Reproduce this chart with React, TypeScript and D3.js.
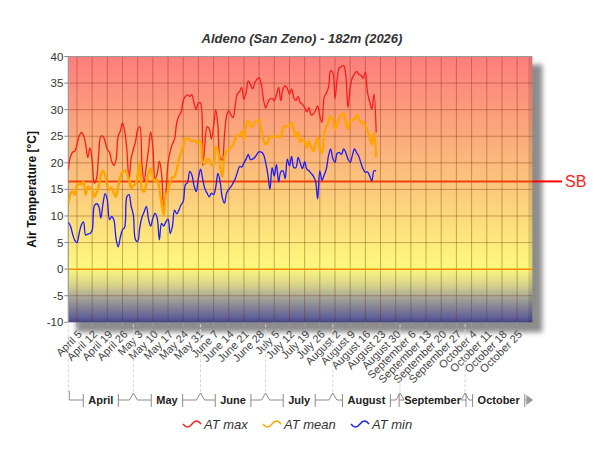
import * as d3 from "d3";
import { useEffect, useRef } from "react";

// daily values from 1 April 2026
const START = new Date(2026, 3, 1);
const END = new Date(2026, 10, 1);

const tMax = [
  18.7, 21.2, 22.0, 22.2, 23.5, 25.0, 25.7, 25.2, 23.5, 21.0, 22.8, 20.5, 16.2, 17.0, 21.5, 25.0, 25.0, 24.0, 22.5, 22.0,
  20.3, 19.5, 20.5, 25.0, 26.0, 27.5, 26.0, 22.5, 16.8, 20.9, 22.5, 24.0, 26.2, 26.8, 19.5, 16.5, 19.5, 22.5, 25.8, 23.0,
  17.0, 18.0, 20.3, 18.0, 11.8, 14.5, 20.0, 22.2, 23.5, 24.5, 27.5, 28.8, 29.5, 31.7, 32.5, 32.8, 32.5, 32.8, 31.2, 30.0,
  31.3, 31.2, 19.5, 23.5, 26.8, 26.4, 24.5, 26.8, 30.0, 27.0, 21.0, 20.5, 25.0, 28.8, 29.8, 29.0, 28.5, 30.8, 33.0, 33.4,
  34.2, 32.0, 33.2, 35.4, 34.7, 33.9, 35.0, 35.7, 36.0, 34.8, 32.0, 30.3, 31.3, 32.0, 32.1, 31.7, 32.8, 34.2, 31.7, 33.9,
  34.5, 34.0, 32.9, 33.9, 32.3, 31.7, 32.5, 31.3, 31.0, 30.4, 29.6, 30.4, 29.0, 29.2, 29.8, 30.7, 28.8, 27.6, 32.3, 33.1,
  34.2, 37.3, 37.0, 32.1, 35.7, 37.9, 38.1, 38.3, 36.4, 30.4, 34.2, 36.0, 36.7, 37.2, 36.6, 36.5, 35.9, 37.1, 33.2, 31.5,
  30.1, 32.9, 25.7,
];

const tMean = [
  12.4, 14.2, 14.6, 14.0, 15.7, 16.1, 15.9, 16.5, 14.0, 15.5, 15.3, 14.9, 13.6, 14.3, 15.5, 17.7, 18.5, 17.7, 15.7, 14.9,
  15.3, 14.3, 13.6, 15.5, 17.4, 18.3, 18.6, 18.1, 16.8, 15.2, 15.7, 16.0, 17.7, 20.2, 14.9, 14.6, 16.0, 17.9, 19.0, 17.1,
  16.5, 16.8, 15.0, 12.4, 10.2, 14.0, 14.6, 16.5, 17.3, 17.4, 18.7, 20.6, 22.0, 23.2, 24.6, 24.6, 24.4, 24.0, 24.2, 24.0,
  23.7, 24.2, 20.2, 19.8, 20.7, 20.6, 19.6, 19.6, 23.1, 22.3, 19.5, 17.3, 21.0, 22.2, 22.5, 22.9, 23.4, 24.4, 25.2, 25.2,
  25.9, 24.4, 27.3, 27.9, 26.9, 26.9, 27.6, 27.9, 28.1, 26.3, 24.4, 23.5, 23.9, 24.8, 24.9, 24.9, 25.1, 24.8, 24.9, 26.3,
  26.9, 26.9, 27.0, 27.6, 26.3, 24.8, 25.8, 23.9, 24.4, 24.1, 22.9, 24.0, 22.9, 22.2, 23.5, 24.8, 22.6, 21.9, 25.4, 26.8,
  27.6, 28.8, 28.3, 26.2, 27.3, 28.5, 29.1, 29.3, 27.6, 26.3, 27.9, 28.1, 28.2, 29.1, 28.2, 27.6, 27.6, 26.9, 26.0, 24.8,
  23.5, 25.6, 21.0,
];

const tMin = [
  8.8, 8.1, 6.6, 5.4, 5.0, 6.7, 8.3, 8.9, 6.4, 6.6, 6.7, 7.3, 11.9, 12.3, 11.9, 9.6, 12.3, 14.2, 13.0, 9.3,
  9.9, 9.3, 5.8, 4.2, 6.0, 7.4, 7.9, 13.6, 14.0, 11.8, 10.2, 5.5, 5.2, 7.9, 9.8, 10.8, 11.8, 9.4, 8.1, 9.6,
  10.5, 9.6, 5.5, 8.6, 8.1, 8.9, 9.4, 6.7, 8.0, 11.1, 10.4, 11.1, 12.1, 12.7, 15.9, 16.3, 18.4, 17.7, 15.7, 14.6,
  17.1, 18.8, 16.9, 15.1, 14.3, 13.6, 14.3, 14.0, 15.4, 18.0, 16.5, 13.5, 12.4, 14.3, 15.0, 15.5, 16.2, 17.0, 18.2, 19.3,
  19.2, 20.0, 20.7, 21.6, 20.6, 20.7, 21.0, 21.6, 22.1, 22.0, 21.6, 20.1, 17.9, 15.0, 19.1, 17.5, 19.7, 16.4, 18.3, 18.5,
  17.0, 20.7, 19.4, 21.2, 19.1, 19.1, 21.0, 19.9, 18.9, 20.2, 18.8, 18.5, 18.0, 17.5, 16.6, 13.2, 18.5, 16.7, 17.7, 18.8,
  21.3, 22.6, 20.8, 20.1, 21.8, 21.9, 21.6, 22.6, 21.9, 20.7, 20.1, 21.4, 22.6, 21.9, 21.2, 19.9, 18.8, 18.2, 18.3, 17.5,
  16.6, 18.5, 18.5,
];

const seriesNames = ["AT max", "AT mean", "AT min"];
const seriesColors = ["#ff1a1a", "#ffa500", "#1a1aff"];
const seriesWidths = [1.3, 2.4, 1.3];
const yTicks = [-10, -5, 0, 5, 10, 15, 20, 25, 30, 35, 40];
const monthNames = ["April", "May", "June", "July", "August", "September", "October"];
const SB_VALUE = 16.5;
const TITLE = "Aldeno (San Zeno) - 182m (2026)";
const Y_LABEL = "Air Temperature [°C]";

const FONT = "'Liberation Sans', Arial, sans-serif";

export default function App() {
  const ref = useRef<SVGSVGElement | null>(null);

  useEffect(() => {
    const el = ref.current;
    if (!el) return;
    const svg = d3.select(el);
    svg.selectAll("*").remove();

    const L = 68.3;
    const R = 532.3;
    const T = 56.5;
    const B = 322.3;

    const x = d3.scaleTime().domain([START, END]).range([L, R]);
    const y = d3.scaleLinear().domain([-10, 40]).range([B, T]);

    const defs = svg.append("defs");
    const grad = defs
      .append("linearGradient")
      .attr("id", "bg")
      .attr("x1", 0)
      .attr("y1", 0)
      .attr("x2", 0)
      .attr("y2", 1);
    const stops: [number, string][] = [
      [0, "#ff7d7d"],
      [0.2, "#fc9b7c"],
      [0.4, "#fbba7c"],
      [0.6, "#fcd97c"],
      [0.74, "#fdf17c"],
      [0.8, "#fdf87e"],
      [0.86, "#d6d38a"],
      [0.9, "#aeac97"],
      [1, "#4f4f98"],
    ];
    stops.forEach(([o, c]) => grad.append("stop").attr("offset", o).attr("stop-color", c));

    const sh = defs
      .append("filter")
      .attr("id", "sh")
      .attr("x", "-10%")
      .attr("y", "-10%")
      .attr("width", "120%")
      .attr("height", "120%");
    sh.append("feGaussianBlur").attr("stdDeviation", 2.5);

    defs
      .append("clipPath")
      .attr("id", "plotclip")
      .append("rect")
      .attr("x", L)
      .attr("y", T)
      .attr("width", R - L)
      .attr("height", B - T);

    // drop shadow
    svg
      .append("rect")
      .attr("x", L + 8)
      .attr("y", T + 8)
      .attr("width", R - L + 2)
      .attr("height", B - T + 2)
      .attr("fill", "#8c8c8c")
      .attr("filter", "url(#sh)");

    svg
      .append("rect")
      .attr("x", L)
      .attr("y", T)
      .attr("width", R - L)
      .attr("height", B - T)
      .attr("fill", "url(#bg)");

    // bevel on right / bottom edges
    svg
      .append("rect")
      .attr("x", R - 4)
      .attr("y", T)
      .attr("width", 4)
      .attr("height", B - T)
      .attr("fill", "rgba(0,0,0,0.12)");
    svg
      .append("rect")
      .attr("x", L)
      .attr("y", B - 3)
      .attr("width", R - L)
      .attr("height", 3)
      .attr("fill", "rgba(0,0,0,0.08)");

    const weeks = d3.timeSunday.range(START, END);
    const grid = svg.append("g").attr("stroke", "rgba(110,40,10,0.36)").attr("stroke-width", 1);
    weeks.forEach((d) => {
      grid
        .append("line")
        .attr("x1", x(d))
        .attr("x2", x(d))
        .attr("y1", T)
        .attr("y2", B);
    });
    yTicks
      .filter((v) => v !== -10 && v !== 40 && v !== 0)
      .forEach((v) => {
        grid
          .append("line")
          .attr("x1", L)
          .attr("x2", R)
          .attr("y1", y(v))
          .attr("y2", y(v));
      });

    // zero line
    svg
      .append("line")
      .attr("x1", L)
      .attr("x2", R)
      .attr("y1", y(0))
      .attr("y2", y(0))
      .attr("stroke", "#ff8c00")
      .attr("stroke-width", 1.5);

    // frame
    svg
      .append("path")
      .attr("d", `M${L},${B}V${T}H${R}`)
      .attr("fill", "none")
      .attr("stroke", "#9a9a9a")
      .attr("stroke-width", 1.2);

    // SB threshold
    svg
      .append("line")
      .attr("x1", L)
      .attr("x2", R)
      .attr("y1", y(SB_VALUE))
      .attr("y2", y(SB_VALUE))
      .attr("stroke", "#f2400c")
      .attr("stroke-width", 2);
    svg
      .append("line")
      .attr("x1", R)
      .attr("x2", 562)
      .attr("y1", y(SB_VALUE))
      .attr("y2", y(SB_VALUE))
      .attr("stroke", "#ff0000")
      .attr("stroke-width", 2);
    svg
      .append("text")
      .attr("x", 565)
      .attr("y", y(SB_VALUE) + 5.5)
      .attr("fill", "#ff2020")
      .attr("font-family", FONT)
      .attr("font-size", 16)
      .text("SB");

    // series
    const series = [tMax, tMean, tMin];
    const line = d3
      .line<number>()
      .x((_, i) => x(d3.timeDay.offset(START, i)))
      .y((v) => y(v))
      .curve(d3.curveCatmullRom.alpha(0.5));
    const lines = svg.append("g").attr("clip-path", "url(#plotclip)");
    series.forEach((s, k) => {
      lines
        .append("path")
        .datum(s)
        .attr("fill", "none")
        .attr("stroke", seriesColors[k])
        .attr("stroke-width", seriesWidths[k])
        .attr("stroke-linejoin", "round")
        .attr("d", line);
    });

    // y axis
    const ya = svg.append("g").attr("font-family", FONT).attr("font-size", 11.5).attr("fill", "#333");
    yTicks.forEach((v) => {
      ya.append("line")
        .attr("x1", L - 4)
        .attr("x2", L)
        .attr("y1", y(v))
        .attr("y2", y(v))
        .attr("stroke", "#888");
      ya.append("text")
        .attr("x", L - 5)
        .attr("y", y(v) + 4)
        .attr("text-anchor", "end")
        .text(String(v));
    });

    svg
      .append("text")
      .attr("transform", `translate(36,${(T + B) / 2}) rotate(-90)`)
      .attr("text-anchor", "middle")
      .attr("font-family", FONT)
      .attr("font-weight", "bold")
      .attr("font-size", 12)
      .attr("fill", "#111")
      .text(Y_LABEL);

    svg
      .append("text")
      .attr("x", 302)
      .attr("y", 43)
      .attr("text-anchor", "middle")
      .attr("font-family", FONT)
      .attr("font-weight", "bold")
      .attr("font-style", "italic")
      .attr("font-size", 13)
      .attr("fill", "#333")
      .text(TITLE);

    // x axis: weekly ticks and rotated labels
    const fmt = d3.timeFormat("%B %-d");
    const xa = svg.append("g").attr("font-family", FONT).attr("font-size", 11).attr("fill", "#444");
    weeks.forEach((d) => {
      xa.append("line")
        .attr("x1", x(d))
        .attr("x2", x(d))
        .attr("y1", B)
        .attr("y2", B + 5)
        .attr("stroke", "#999");
      xa.append("text")
        .attr("transform", `translate(${x(d) + 3},${B + 10}) rotate(-45)`)
        .attr("text-anchor", "end")
        .attr("dy", "0.35em")
        .text(fmt(d));
    });

    // month row
    const monthStarts = d3.timeMonth.range(START, END);
    const rowY = 400;
    const mg = svg.append("g");
    monthStarts.forEach((m) => {
      mg.append("line")
        .attr("x1", x(m))
        .attr("x2", x(m))
        .attr("y1", B + 2)
        .attr("y2", rowY - 8)
        .attr("stroke", "#d6d6d6")
        .attr("stroke-dasharray", "3,2");
    });
    monthStarts.forEach((m, i) => {
      const a = x(m);
      const b = Math.min(x(d3.timeMonth.offset(m, 1)), R);
      const c = (a + b) / 2;
      const t = mg
        .append("text")
        .attr("x", c)
        .attr("y", rowY + 4)
        .attr("text-anchor", "middle")
        .attr("font-family", FONT)
        .attr("font-weight", "bold")
        .attr("font-size", 11)
        .attr("fill", "#222")
        .text(monthNames[i]);
      const w = (t.node() as SVGTextElement).getComputedTextLength();
      const lt = c - w / 2 - 5;
      const rt = c + w / 2 + 5;
      const first = i === 0;
      const last = i === monthStarts.length - 1;
      const left = first
        ? `M${a + 1},${rowY - 9}V${rowY}H${lt}`
        : `M${a},${rowY - 7}L${a + 4},${rowY}H${lt}`;
      const right = last ? `M${rt},${rowY}H${R - 6}` : `M${rt},${rowY}H${b - 4}L${b},${rowY - 7}`;
      mg.append("path")
        .attr("d", `${left}M${lt},${rowY - 6}V${rowY + 7}M${rt},${rowY - 6}V${rowY + 7}${right}`)
        .attr("fill", "none")
        .attr("stroke", "#8a8a8a")
        .attr("stroke-width", 1);
      if (last) {
        mg.append("path")
          .attr("d", `M${R - 6},${rowY - 5}L${R + 1},${rowY}L${R - 6},${rowY + 5}Z`)
          .attr("fill", "#9a9a9a");
      }
    });

    // legend
    const legendX = [183, 263, 351];
    const legendY = 424;
    const lg = svg.append("g");
    seriesNames.forEach((name, k) => {
      const lx = legendX[k];
      lg.append("path")
        .attr("d", `M${lx},${legendY}Q${lx + 4.5},${legendY + 6} ${lx + 9},${legendY}T${lx + 18},${legendY}`)
        .attr("fill", "none")
        .attr("stroke", seriesColors[k])
        .attr("stroke-width", 1.3);
      lg.append("text")
        .attr("x", lx + 21)
        .attr("y", legendY + 5)
        .attr("font-family", FONT)
        .attr("font-style", "italic")
        .attr("font-size", 13)
        .attr("fill", "#333")
        .text(name);
    });
  }, []);

  return (
    <svg
      ref={ref}
      width={600}
      height={450}
      style={{ position: "absolute", left: 0, top: 0, background: "#fff" }}
    />
  );
}
